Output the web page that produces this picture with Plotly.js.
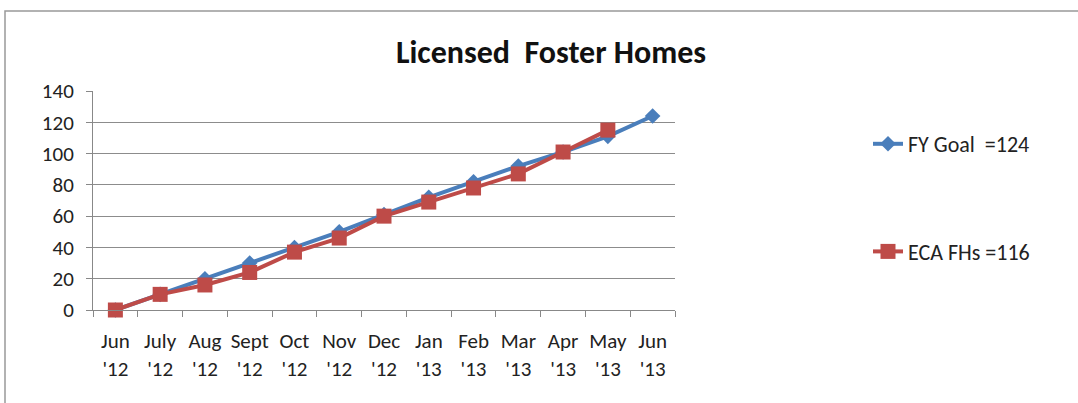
<!DOCTYPE html>
<html><head><meta charset="utf-8">
<script src="https://cdn.plot.ly/plotly-3.0.1.min.js"></script>
<style>html,body{margin:0;padding:0;background:#fff;}#chart{width:1078px;height:403px;}</style>
</head><body><div id="chart"></div>
<script>
const categories = ["Jun<br>'12","July<br>'12","Aug<br>'12","Sept<br>'12","Oct<br>'12","Nov<br>'12","Dec<br>'12","Jan<br>'13","Feb<br>'13","Mar<br>'13","Apr<br>'13","May<br>'13","Jun<br>'13"];
const goalValues = [0,10,20,30,40,50,61,72,82,92,101,111,124];
const ecaValues = [0,10,16,24,37,46,60,69,78,87,101,115,null];
const goalName = "FY Goal  =124";
const ecaName = "ECA FHs =116";
const yTicks = [0,20,40,60,80,100,120,140];

const font = "Carlito, 'Liberation Sans Narrow', 'Open Sans', sans-serif";
const traces = [
  {x: categories, y: goalValues, name: goalName, type: "scatter", mode: "lines+markers",
   line: {color: "#4A7EBB", width: 4}, marker: {symbol: "diamond", size: 12, color: "#4A7EBB"},
   cliponaxis: false, legendgroup: "a"},
  {x: categories, y: ecaValues, name: ecaName, type: "scatter", mode: "lines+markers",
   line: {color: "#BE4B48", width: 4}, marker: {symbol: "square", size: 15, color: "#BE4B48"},
   cliponaxis: false, legendgroup: "b"}
];
const L = 93, R = 403, T = 91, B = 93;
const pw = 1078 - L - R, ph = 403 - T - B;
const px = v => (v - L) / pw;
const py = v => (403 - B - v) / ph;
const layout = {
  width: 1078, height: 403,
  margin: {l: L, r: R, t: T, b: B},
  paper_bgcolor: "#fff", plot_bgcolor: "#fff",
  font: {family: font, size: 21, color: "#222"},
  title: {text: "<b>Licensed  Foster Homes</b>", x: 551/1078, xanchor: "center", y: 1 - 52/403, yanchor: "middle",
          font: {family: font, size: 32, color: "#111"}},
  xaxis: {type: "category", range: [-0.5, 12.5], tickson: "boundaries", ticks: "outside", ticklen: 6, tickcolor: "#888",
          tickangle: 0, ticklabelstandoff: 12, showline: true, linecolor: "#888", linewidth: 1, showgrid: false,
          tickfont: {family: font, size: 21, color: "#222"}, fixedrange: true},
  yaxis: {range: [0, 140], tickvals: yTicks, ticks: "outside", ticklen: 6, tickcolor: "#888",
          ticklabelstandoff: 8,
          showline: true, linecolor: "#888", gridcolor: "#8c8c8c", gridwidth: 1, zeroline: false,
          tickfont: {family: font, size: 21, color: "#222"}, fixedrange: true},
  showlegend: true,
  legend: {x: px(868), xanchor: "left", y: py(123), yanchor: "top", traceorder: "grouped",
           tracegroupgap: 76, font: {family: font, size: 22, color: "#222"}, bgcolor: "rgba(0,0,0,0)"},
  shapes: [{type: "rect", xref: "paper", yref: "paper", x0: px(5), x1: px(1090), y0: py(420), y1: py(11),
            line: {color: "#999", width: 1.5}, layer: "below"}]
};
Plotly.newPlot("chart", traces, layout, {displayModeBar: false, staticPlot: true});
</script></body></html>
